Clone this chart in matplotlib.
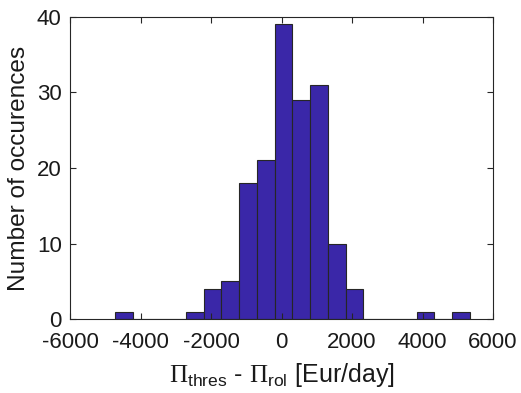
import matplotlib
matplotlib.use("Agg")
import matplotlib.pyplot as plt
import numpy as np

plt.rcParams['font.family'] = ['Liberation Sans', 'DejaVu Sans']
plt.rcParams['mathtext.fontset'] = 'custom'
plt.rcParams['mathtext.rm'] = 'Liberation Serif'
plt.rcParams['mathtext.sf'] = 'Liberation Sans'
plt.rcParams['axes.unicode_minus'] = False

# histogram data
edge_min = -4724
edge_max = 5339
counts = [1, 0, 0, 0, 1, 4, 5, 18, 21, 39, 29, 31, 10, 4, 0, 0, 0, 1, 0, 1]
xticks = [-6000, -4000, -2000, 0, 2000, 4000, 6000]
yticks = [0, 10, 20, 30, 40]

edges = np.linspace(edge_min, edge_max, len(counts) + 1)
width = edges[1] - edges[0]

fig = plt.figure(figsize=(5.21, 3.93), dpi=100)
ax = fig.add_axes([0.1344, 0.188, 0.812, 0.769])

ax.bar(edges[:-1], counts, width=width, align='edge',
       color='#3a27a8', edgecolor='#262626', linewidth=0.8)

ax.set_xlim(-6000, 6000)
ax.set_ylim(0, 40)
ax.set_xticks(xticks)
ax.set_yticks(yticks)
ax.tick_params(direction='in', length=4.5, width=0.8, labelsize=16,
               top=True, right=True, colors='#262626', labelcolor='#1a1a1a')
ax.tick_params(axis='x', pad=9)
ax.tick_params(axis='y', pad=6)
for s in ax.spines.values():
    s.set_color('#262626')
    s.set_linewidth(0.8)

ax.set_xlabel(r'$\Pi_{\mathsf{thres}}$ - $\Pi_{\mathsf{rol}}$ [Eur/day]', fontsize=18, color='#1a1a1a', labelpad=6)
ax.set_ylabel('Number of occurences', fontsize=17.6, color='#1a1a1a', labelpad=5)

fig.savefig('out.png', dpi=100)
